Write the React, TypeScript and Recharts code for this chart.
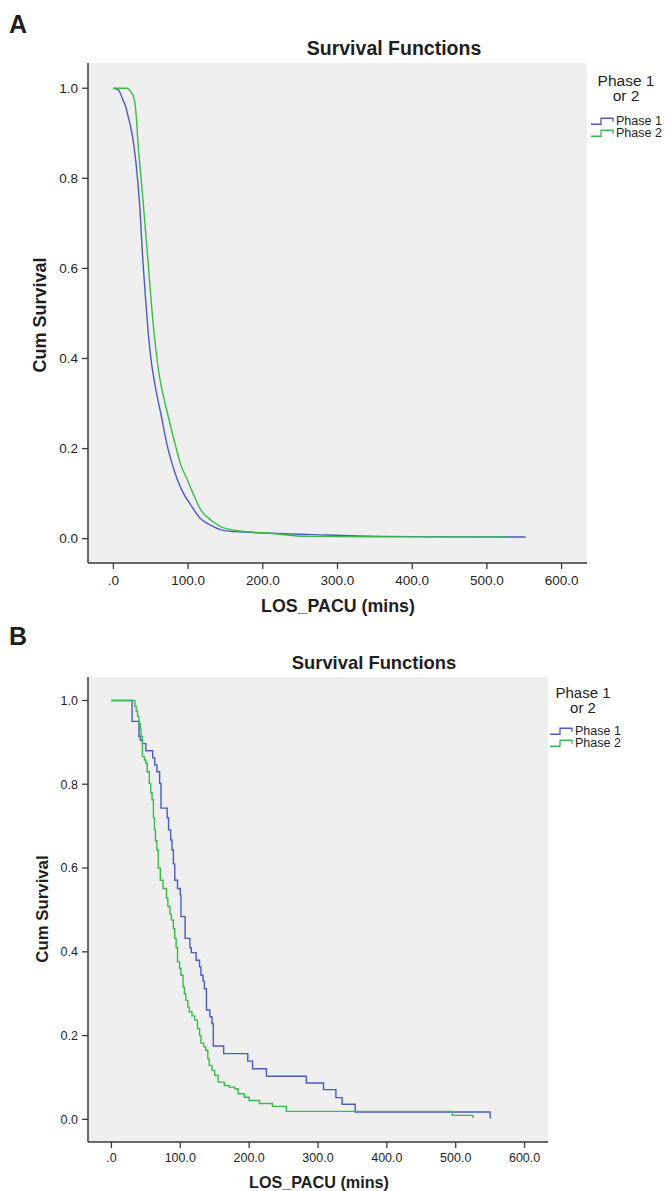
import React from 'react';
import { LineChart, Line, XAxis, YAxis, CartesianGrid } from 'recharts';

// shared axis setup
const X_TICKS = [0, 100, 200, 300, 400, 500, 600];
const Y_TICKS = [0, 0.2, 0.4, 0.6, 0.8, 1.0];
const X_DOMAIN = [-34, 634];
const Y_DOMAIN = [-0.054, 1.056];
const GROUPS = ['Phase 1', 'Phase 2'];
const COLORS = ['#4a5cbc', '#3cb94c'];

// Panel A - large sample, curves look smooth
const A_P1_T = [0, 6, 9, 12.5, 16.5, 20, 23, 27.6, 32, 35.6, 38.8, 42.5, 46, 49.5, 54.4, 58.5, 63.3, 72.3, 78, 85.7, 94, 103.5, 116.9, 130, 148, 170, 201.6, 268.5, 358, 450, 552];
const A_P1_S = [1.0, 0.997, 0.99, 0.975, 0.959, 0.935, 0.915, 0.871, 0.804, 0.73, 0.634, 0.545, 0.47, 0.41, 0.353, 0.317, 0.279, 0.205, 0.17, 0.131, 0.1, 0.075, 0.044, 0.03, 0.018, 0.015, 0.0126, 0.0089, 0.005, 0.004, 0.0038];
const A_P2_T = [0, 18, 23, 27.6, 29.9, 33, 38.8, 45.5, 49, 52.5, 56.5, 62.4, 67, 72.3, 83.4, 90, 99, 108, 117, 130, 143.6, 170, 206, 260, 400, 527];
const A_P2_S = [1.0, 1.0, 0.993, 0.978, 0.952, 0.878, 0.767, 0.634, 0.56, 0.49, 0.425, 0.353, 0.316, 0.279, 0.205, 0.165, 0.131, 0.095, 0.064, 0.042, 0.027, 0.017, 0.0126, 0.005, 0.004, 0.004];

// Panel B - small sample, step curves (value after each drop)
const B_P1_T = [0, 30, 40, 42, 45, 50, 60, 63, 66, 70, 72, 81, 83, 86, 88, 90, 92, 96, 100, 101, 107, 114, 116, 123, 128, 130, 133, 135, 138, 143, 146, 148, 163, 198, 205, 225, 283, 308, 326, 335, 354, 550];
const B_P1_S = [1.0, 0.95, 0.914, 0.905, 0.897, 0.88, 0.863, 0.846, 0.83, 0.802, 0.743, 0.72, 0.691, 0.667, 0.643, 0.61, 0.571, 0.551, 0.536, 0.484, 0.432, 0.41, 0.398, 0.38, 0.364, 0.344, 0.33, 0.312, 0.261, 0.245, 0.229, 0.175, 0.157, 0.139, 0.121, 0.103, 0.087, 0.071, 0.052, 0.036, 0.0175, 0.002];
const B_P2_T = [0, 34, 36, 38, 40, 42, 43, 45, 48, 50, 52, 55, 57, 59, 61, 62.5, 64, 66, 68, 71, 75, 80, 82, 85, 87, 90, 92, 94, 96, 99, 101, 104, 106, 108, 111, 113, 117, 121, 125, 128, 130, 134, 137, 140, 142, 146, 150, 155, 164, 171, 179, 184, 193, 200, 215, 234, 254, 495, 525];
const B_P2_S = [1.0, 0.986, 0.975, 0.962, 0.945, 0.93, 0.914, 0.866, 0.858, 0.85, 0.83, 0.802, 0.78, 0.763, 0.72, 0.691, 0.665, 0.643, 0.6, 0.571, 0.551, 0.528, 0.508, 0.49, 0.476, 0.455, 0.432, 0.41, 0.376, 0.36, 0.344, 0.316, 0.3, 0.284, 0.268, 0.257, 0.247, 0.237, 0.217, 0.2, 0.182, 0.173, 0.165, 0.145, 0.129, 0.117, 0.105, 0.089, 0.081, 0.077, 0.073, 0.061, 0.053, 0.045, 0.038, 0.031, 0.019, 0.0096, 0.003];

const FONT = '"Liberation Sans", Arial, sans-serif';
const INK = '#1e1e1e';
const BOX = '#3a3a3a';

const zip = (t: number[], s: number[]) => t.map((v, i) => ({ t: v, s: s[i] }));
const fmtX = (v: number) => (v === 0 ? '.0' : v.toFixed(1));
const fmtY = (v: number) => v.toFixed(1);

function Txt({ x, y, size, bold, rotate, anchor = 'middle', children }: any) {
  const tx = anchor === 'middle' ? '-50%' : anchor === 'start' ? '0' : '-100%';
  return (
    <div
      style={{
        position: 'absolute',
        left: x,
        top: y,
        transform: `translate(${tx},-50%)${rotate ? ` rotate(${rotate}deg)` : ''}`,
        fontSize: size,
        fontWeight: bold ? 700 : 400,
        lineHeight: 1,
        whiteSpace: 'nowrap',
        color: INK,
        fontFamily: FONT,
      }}
    >
      {children}
    </div>
  );
}

function StepIcon({ color }: { color: string }) {
  return (
    <svg width={24} height={9} style={{ display: 'block' }}>
      <path d="M0,7.5 H10 V1.5 H22 V5" fill="none" stroke={color} strokeWidth={1.3} />
    </svg>
  );
}

function LegendBox({ x, titleX, titleY, itemY, titleSize }: any) {
  return (
    <>
      <Txt x={titleX} y={titleY} size={titleSize}>Phase 1</Txt>
      <Txt x={titleX} y={titleY + 15} size={titleSize}>or 2</Txt>
      {GROUPS.map((g, i) => (
        <div
          key={g}
          style={{ position: 'absolute', left: x, top: itemY + i * 12, transform: 'translateY(-50%)', display: 'flex', alignItems: 'center', fontFamily: FONT, fontSize: 12.5, lineHeight: 1, color: INK }}
        >
          <StepIcon color={COLORS[i]} />
          <span style={{ marginLeft: 1 }}>{g}</span>
        </div>
      ))}
    </>
  );
}

function SurvivalPlot({ top, height, margin, xHeight, tickSize, xMargin, series, curve }: any) {
  const tick = { fontSize: tickSize, fill: INK, fontFamily: FONT };
  return (
    <div style={{ position: 'absolute', left: 0, top }}>
      <LineChart width={668} height={height} margin={margin}>
        <CartesianGrid fill="#efefef" stroke="none" />
        <XAxis
          dataKey="t"
          type="number"
          domain={X_DOMAIN}
          ticks={X_TICKS}
          tickFormatter={fmtX}
          allowDataOverflow
          height={xHeight}
          tick={tick}
          tickSize={6}
          tickMargin={xMargin}
          axisLine={{ stroke: BOX, strokeWidth: 1.5 }}
          tickLine={{ stroke: BOX, strokeWidth: 1.3 }}
        />
        <XAxis xAxisId="top" dataKey="t" orientation="top" type="number" domain={X_DOMAIN} allowDataOverflow height={0} tick={false} tickLine={false} axisLine={{ stroke: BOX, strokeWidth: 1.5 }} />
        <YAxis
          type="number"
          domain={Y_DOMAIN}
          ticks={Y_TICKS}
          tickFormatter={fmtY}
          allowDataOverflow
          width={margin.yWidth}
          tick={tick}
          tickSize={6}
          tickMargin={4}
          axisLine={{ stroke: BOX, strokeWidth: 1.5 }}
          tickLine={{ stroke: BOX, strokeWidth: 1.3 }}
        />
        <YAxis yAxisId="r" orientation="right" type="number" domain={Y_DOMAIN} allowDataOverflow width={0} tick={false} tickLine={false} axisLine={{ stroke: BOX, strokeWidth: 1.5 }} />
        {series.map((d: any[], i: number) => (
          <Line
            key={GROUPS[i]}
            data={d}
            dataKey="s"
            name={GROUPS[i]}
            type={curve}
            stroke={COLORS[i]}
            strokeWidth={1.4}
            dot={false}
            isAnimationActive={false}
          />
        ))}
      </LineChart>
    </div>
  );
}

export default function App() {
  const aSeries = [zip(A_P1_T, A_P1_S), zip(A_P2_T, A_P2_S)];
  const bSeries = [zip(B_P1_T, B_P1_S), zip(B_P2_T, B_P2_S)];
  return (
    <div style={{ position: 'absolute', left: 0, top: 0, width: 668, height: 1191, background: '#fff', overflow: 'hidden' }}>
      {/* Panel A */}
      <SurvivalPlot
        top={0}
        height={640}
        margin={{ top: 63, right: 81, left: 0, bottom: 47, yWidth: 88 }}
        xHeight={30}
        tickSize={13.5}
        xMargin={6}
        series={aSeries}
        curve="monotone"
      />
      <Txt x={9} y={24} size={25} bold anchor="start">A</Txt>
      <Txt x={394} y={49} size={19.5} bold>Survival Functions</Txt>
      <Txt x={40} y={315} size={18} bold rotate={-90}>Cum Survival</Txt>
      <Txt x={338} y={607} size={17.8} bold>LOS_PACU (mins)</Txt>
      <LegendBox x={591} titleX={626} titleY={81} itemY={121} titleSize={15.5} />

      {/* Panel B */}
      <SurvivalPlot
        top={640}
        height={551}
        margin={{ top: 37, right: 120, left: 0, bottom: 19, yWidth: 88 }}
        xHeight={30}
        tickSize={12.5}
        xMargin={5}
        series={bSeries}
        curve="stepAfter"
      />
      <Txt x={9} y={636} size={25} bold anchor="start">B</Txt>
      <Txt x={374} y={663} size={18.4} bold>Survival Functions</Txt>
      <Txt x={43} y={909} size={16.8} bold rotate={-90}>Cum Survival</Txt>
      <Txt x={319} y={1182} size={16.2} bold>LOS_PACU (mins)</Txt>
      <LegendBox x={550} titleX={583} titleY={692} itemY={731} titleSize={15} />
    </div>
  );
}
